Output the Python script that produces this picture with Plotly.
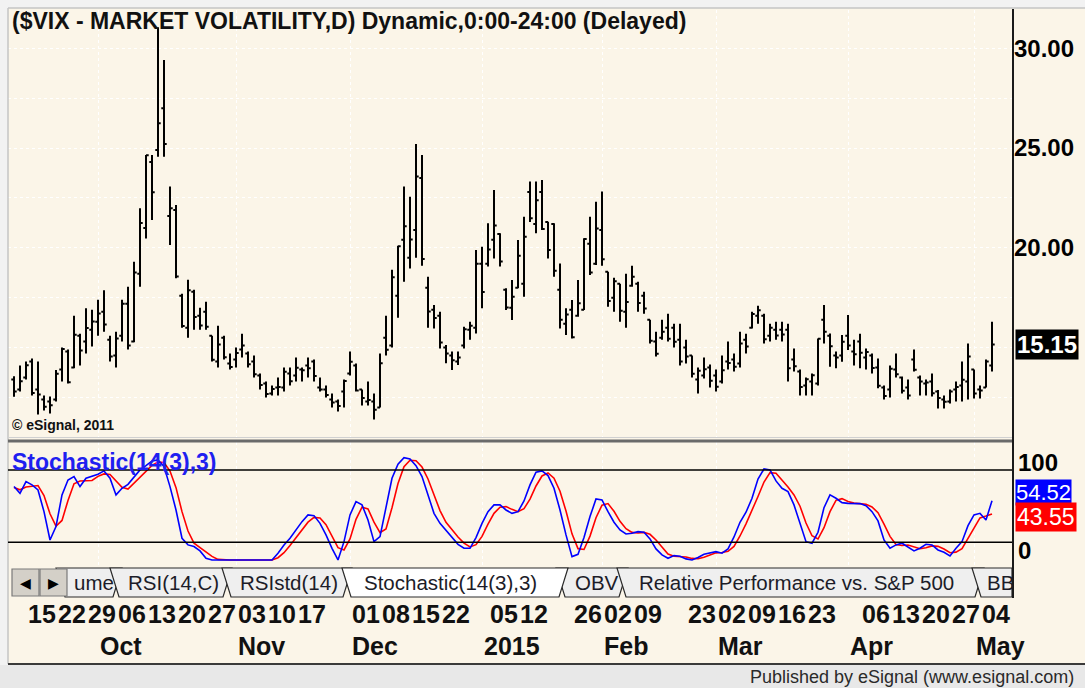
import pandas as pd
import plotly.graph_objects as go

W, H = 1085, 688
FONT = "Liberation Sans, Arial, sans-serif"
CREAM = "#fbf5e8"

# ---------------- data ----------------
start_date, end_date = "2014-09-11", "2015-05-06"
market_holidays = ["2014-11-27", "2014-12-25", "2015-01-01", "2015-01-19", "2015-02-16", "2015-04-03"]
dates = [d for d in pd.bdate_range(start_date, end_date) if d.strftime("%Y-%m-%d") not in market_holidays]

opens = [13.40, 12.90, 13.50, 14.30, 12.90, 12.40, 12.30, 12.40, 13.90, 14.80,
         14.00, 15.60, 15.30, 15.90, 16.30, 16.80, 15.40, 14.60, 15.60, 17.20,
         15.30, 18.70, 21.00, 24.30, 24.90, 27.00, 21.60, 21.90, 17.60, 16.00,
         17.80, 16.60, 16.80, 15.60, 14.30, 15.50, 14.20, 14.40, 14.90, 14.70,
         14.30, 13.60, 13.20, 12.70, 13.00, 13.00, 13.70, 13.60, 13.90, 14.10,
         14.30, 13.00, 12.90, 12.40, 12.30, 12.80, 13.70, 14.10, 12.90, 12.30,
         12.30, 12.00, 15.50, 15.10, 17.60, 20.40, 19.50, 20.90, 23.50, 18.00,
         16.90, 16.60, 15.00, 14.60, 14.30, 15.10, 15.90, 16.00, 19.20, 19.20,
         20.40, 20.70, 17.90, 17.00, 18.00, 18.20, 22.80, 21.20, 22.80, 21.30,
         21.20, 17.90, 16.20, 16.90, 16.60, 16.90, 20.20, 19.20, 20.90, 18.80,
         17.50, 18.20, 16.80, 18.10, 18.20, 17.60, 16.40, 15.30, 15.50, 16.00,
         16.00, 15.40, 15.00, 14.60, 13.40, 13.60, 14.00, 13.60, 13.30, 14.30,
         14.40, 14.20, 15.40, 16.00, 16.60, 16.60, 15.60, 15.90, 15.90, 15.90,
         14.40, 13.80, 13.10, 13.30, 13.20, 16.40, 15.60, 14.60, 14.60, 15.60,
         14.80, 15.30, 14.50, 14.60, 14.00, 13.00, 12.90, 13.90, 13.50, 13.00,
         14.40, 13.50, 13.20, 13.30, 12.80, 12.40, 12.30, 12.90, 13.10, 13.30,
         13.90, 12.90, 13.00, 14.10]
highs = [13.57, 14.10, 14.30, 14.46, 14.30, 12.60, 12.55, 13.88, 15.00, 14.90,
         16.60, 15.70, 16.97, 16.90, 17.40, 17.88, 15.60, 15.80, 17.40, 18.05,
         19.30, 21.98, 24.65, 24.65, 31.06, 29.42, 23.07, 22.15, 17.70, 18.40,
         17.90, 17.00, 17.30, 15.60, 16.10, 15.60, 14.70, 15.00, 15.70, 14.80,
         14.60, 13.70, 13.30, 13.10, 13.50, 14.00, 14.00, 14.50, 14.00, 14.50,
         14.40, 13.50, 13.10, 12.70, 12.40, 13.40, 14.80, 14.20, 12.90, 13.30,
         12.70, 14.70, 16.60, 18.90, 20.10, 23.07, 22.56, 25.20, 24.65, 18.55,
         17.13, 16.80, 15.13, 14.80, 14.80, 16.05, 16.30, 19.89, 20.06, 21.23,
         22.90, 20.73, 17.97, 18.39, 20.39, 21.56, 23.32, 23.32, 23.40, 21.31,
         21.23, 19.22, 16.97, 17.39, 18.39, 20.48, 21.56, 22.31, 22.82, 18.80,
         18.50, 18.20, 18.70, 19.10, 18.30, 17.80, 16.40, 15.80, 16.40, 16.70,
         16.20, 16.20, 15.40, 14.60, 14.00, 14.50, 14.15, 13.90, 14.60, 15.30,
         14.70, 15.80, 15.70, 16.80, 17.10, 16.70, 16.20, 16.30, 16.30, 16.20,
         14.96, 13.90, 13.50, 13.70, 15.46, 17.13, 15.71, 14.80, 15.63, 16.63,
         15.40, 15.70, 14.96, 14.70, 14.46, 13.10, 14.10, 14.70, 13.55, 13.40,
         14.90, 13.60, 13.40, 13.70, 12.87, 12.60, 12.90, 13.30, 14.30, 15.20,
         13.90, 13.10, 14.40, 16.30]
lows = [12.54, 12.80, 13.40, 12.60, 11.65, 11.85, 11.70, 12.30, 13.30, 13.20,
        13.96, 14.10, 14.71, 15.05, 15.60, 15.80, 14.30, 14.00, 15.30, 14.90,
        15.27, 18.05, 20.47, 21.40, 24.57, 24.57, 20.14, 18.47, 16.00, 15.50,
        15.90, 15.90, 15.90, 14.30, 14.00, 14.40, 13.90, 14.00, 14.50, 14.00,
        13.50, 12.90, 12.50, 12.60, 12.60, 12.80, 13.10, 13.30, 13.30, 13.50,
        13.30, 12.80, 12.50, 12.00, 11.80, 12.00, 13.60, 12.80, 12.10, 12.10,
        11.40, 12.00, 14.60, 15.00, 16.50, 18.30, 18.97, 19.50, 19.10, 16.00,
        15.96, 14.96, 14.21, 13.88, 14.13, 14.96, 15.40, 15.71, 16.97, 19.06,
        19.47, 19.06, 16.88, 16.38, 17.97, 17.55, 21.30, 20.73, 20.90, 19.47,
        18.55, 15.96, 15.63, 15.46, 16.55, 16.88, 18.64, 19.14, 19.10, 17.05,
        16.80, 16.30, 16.00, 18.05, 16.80, 16.70, 15.20, 14.55, 15.40, 15.30,
        15.00, 14.10, 14.20, 13.50, 12.70, 13.45, 13.00, 12.80, 13.20, 13.90,
        13.80, 14.00, 14.70, 15.96, 16.20, 15.20, 15.30, 15.40, 15.30, 13.30,
        13.80, 12.60, 12.60, 12.60, 13.10, 15.20, 14.04, 13.96, 14.29, 14.88,
        14.10, 13.96, 13.90, 13.70, 12.96, 12.40, 12.50, 13.50, 12.70, 12.40,
        13.80, 12.60, 12.60, 12.55, 11.95, 11.95, 12.20, 12.30, 12.30, 12.40,
        12.45, 12.45, 13.00, 13.80]
closes = [12.80, 13.31, 14.12, 12.73, 12.65, 12.03, 12.11, 13.69, 14.93, 13.27,
          15.64, 14.85, 15.98, 16.31, 16.71, 16.16, 14.55, 15.46, 17.20, 15.11,
          18.76, 21.24, 24.64, 22.79, 26.25, 25.20, 21.99, 18.57, 16.08, 17.87,
          16.53, 16.11, 16.04, 14.39, 15.15, 14.52, 14.03, 14.73, 15.10, 14.17,
          13.67, 13.12, 12.67, 12.92, 13.02, 13.79, 13.31, 13.99, 13.86, 13.96,
          13.58, 12.90, 12.62, 12.25, 12.07, 13.33, 14.29, 12.85, 12.47, 12.38,
          11.89, 14.21, 14.89, 18.53, 20.08, 21.08, 20.42, 23.57, 19.44, 16.81,
          16.49, 15.25, 14.70, 14.37, 14.50, 15.92, 16.10, 19.20, 17.79, 19.92,
          21.12, 19.31, 17.01, 17.55, 19.60, 20.56, 21.48, 22.39, 20.95, 19.89,
          18.85, 16.40, 16.66, 15.52, 17.22, 20.44, 18.76, 20.97, 19.43, 17.33,
          18.33, 16.85, 17.29, 18.55, 17.23, 16.96, 15.34, 14.69, 15.80, 15.45,
          15.29, 14.30, 14.56, 13.69, 13.84, 13.91, 13.34, 13.04, 13.86, 14.23,
          14.04, 15.20, 15.06, 16.69, 16.87, 15.42, 16.00, 15.61, 15.66, 13.97,
          14.07, 13.02, 13.41, 13.62, 15.44, 15.80, 15.07, 14.51, 15.29, 15.11,
          14.67, 14.74, 14.78, 13.98, 13.09, 12.58, 13.94, 13.67, 12.84, 12.60,
          13.89, 13.30, 13.25, 12.71, 12.48, 12.29, 12.80, 13.03, 13.39, 14.55,
          12.70, 12.85, 14.31, 15.15]
stoch_k = [66.2, 60.6, 70.3, 67.6, 63.4, 45.4, 21.9, 33.0, 59.3, 71.7,
           74.5, 66.2, 73.1, 74.5, 76.4, 79.2, 73.1, 59.3, 64.8, 68.1,
           74.5, 80.0, 83.6, 87.5, 88.3, 82.8, 66.2, 46.8, 23.3, 17.8,
           16.4, 12.8, 6.7, 5.3, 5.3, 5.3, 5.3, 5.3, 5.3, 5.9,
           5.3, 5.3, 5.3, 5.3, 10.9, 17.8, 23.3, 30.2, 37.1, 42.7,
           42.1, 35.7, 26.1, 15.0, 5.3, 20.5, 42.7, 53.7, 51.0, 38.5,
           20.5, 24.7, 48.2, 73.1, 84.7, 90.2, 89.1, 83.6, 74.5, 59.3,
           44.0, 35.7, 30.2, 24.7, 18.3, 15.0, 15.0, 23.9, 35.7, 45.4,
           51.0, 51.0, 46.8, 44.0, 45.4, 54.3, 67.6, 78.1, 79.2, 75.3,
           64.8, 46.8, 26.1, 8.1, 10.0, 23.9, 41.3, 55.9, 55.1, 45.4,
           36.6, 30.2, 26.9, 27.5, 28.8, 28.3, 22.8, 14.5, 9.5, 6.7,
           8.9, 8.4, 6.2, 5.3, 7.3, 10.0, 11.4, 12.2, 10.9, 14.5,
           24.4, 36.6, 44.9, 56.5, 72.5, 80.8, 80.0, 70.9, 64.8, 62.0,
           51.0, 36.6, 20.5, 19.2, 28.3, 48.7, 59.3, 56.5, 52.9, 52.3,
           52.3, 52.1, 50.4, 45.4, 37.7, 21.9, 15.0, 17.8, 19.2, 16.1,
           12.8, 15.0, 18.3, 17.8, 13.6, 11.7, 8.6, 15.0, 20.5, 33.8,
           42.7, 44.0, 38.5, 54.52]
stoch_d = [65.5, 63.5, 65.8, 66.2, 67.1, 58.8, 43.6, 33.4, 38.1, 54.7,
           68.5, 70.8, 71.3, 71.3, 74.7, 76.7, 76.2, 70.5, 65.7, 64.1,
           69.1, 74.2, 79.4, 83.7, 86.5, 86.2, 79.1, 65.3, 45.4, 29.3,
           19.2, 15.7, 12.0, 8.3, 5.8, 5.3, 5.3, 5.3, 5.3, 5.5,
           5.5, 5.5, 5.3, 5.3, 7.2, 11.3, 17.3, 23.8, 30.2, 36.7,
           40.6, 40.2, 34.6, 25.6, 15.5, 13.6, 22.8, 39.0, 49.1, 47.7,
           36.7, 27.9, 31.1, 48.7, 68.7, 82.7, 88.0, 87.6, 82.4, 72.5,
           59.3, 46.3, 36.6, 30.2, 24.4, 19.3, 16.1, 18.0, 24.9, 35.0,
           44.0, 49.1, 49.6, 47.3, 45.4, 47.9, 55.8, 66.7, 75.0, 77.5,
           73.1, 62.3, 45.9, 27.0, 14.7, 14.0, 25.1, 40.4, 50.8, 52.1,
           45.7, 37.4, 31.2, 28.2, 27.7, 28.2, 26.6, 21.9, 15.6, 10.2,
           8.4, 8.0, 7.8, 6.6, 6.3, 7.5, 9.6, 11.2, 11.5, 12.5,
           16.6, 25.2, 35.3, 46.0, 58.0, 70.0, 77.8, 77.2, 71.9, 65.9,
           59.3, 49.9, 36.0, 25.4, 22.7, 32.1, 45.4, 54.8, 56.2, 53.9,
           52.5, 52.2, 51.6, 49.3, 44.5, 35.0, 24.9, 18.2, 17.3, 17.7,
           16.0, 14.6, 15.4, 17.0, 16.6, 14.4, 11.3, 11.8, 14.7, 23.1,
           32.3, 40.2, 41.7, 43.55]
stoch_levels = [20, 80]
price_ticks = [20, 25, 30]
week_label_dates = ["2014-09-15", "2014-09-22", "2014-09-29", "2014-10-06", "2014-10-13",
                    "2014-10-20", "2014-10-27", "2014-11-03", "2014-11-10", "2014-11-17",
                    "2014-12-01", "2014-12-08", "2014-12-15", "2014-12-22", "2015-01-05",
                    "2015-01-12", "2015-01-26", "2015-02-02", "2015-02-09", "2015-02-23",
                    "2015-03-02", "2015-03-09", "2015-03-16", "2015-03-23", "2015-04-06",
                    "2015-04-13", "2015-04-20", "2015-04-27", "2015-05-04"]
month_label_dates = ["2014-10-01", "2014-11-03", "2014-12-01", "2015-01-02",
                     "2015-02-02", "2015-03-02", "2015-04-01", "2015-05-01"]
month_labels = ["Oct", "Nov", "Dec", "2015", "Feb", "Mar", "Apr", "May"]
tab_labels = ["ume", "RSI(14,C)", "RSIstd(14)", "Stochastic(14(3),3)", "OBV",
              "Relative Performance vs. S&P 500", "BB"]
active_tab = "Stochastic(14(3),3)"

title_text = "($VIX - MARKET VOLATILITY,D) Dynamic,0:00-24:00 (Delayed)"

# ---------------- helpers ----------------
def X(p):
    return p / W


def Y(p):
    return 1 - p / H


idx = {d.strftime("%Y-%m-%d"): i for i, d in enumerate(dates)}
xs = list(range(len(dates)))
month_idx = [idx[d] for d in month_label_dates]

fig = go.Figure()
fig.add_trace(go.Ohlc(
    x=xs, open=opens, high=highs, low=lows, close=closes,
    increasing=dict(line=dict(color="#000000", width=2)),
    decreasing=dict(line=dict(color="#000000", width=2)),
    tickwidth=0.45, xaxis="x", yaxis="y", hoverinfo="skip"))
fig.add_trace(go.Scatter(x=xs, y=stoch_d, mode="lines", line=dict(color="#ff0000", width=1.6),
                         xaxis="x2", yaxis="y2", hoverinfo="skip"))
fig.add_trace(go.Scatter(x=xs, y=stoch_k, mode="lines", line=dict(color="#0000ff", width=1.6),
                         xaxis="x2", yaxis="y2", hoverinfo="skip"))

xdom = [X(8), X(1013)]
xrange_ = [-1, 166.5]
grid = dict(showgrid=True, gridcolor="#ffffff", griddash="dot", gridwidth=1)

fig.update_layout(
    width=W, height=H, margin=dict(l=0, r=0, t=0, b=0),
    paper_bgcolor=CREAM, plot_bgcolor=CREAM, showlegend=False,
    font=dict(family=FONT, color="#000000"),
    xaxis=dict(domain=xdom, range=xrange_, anchor="y", showticklabels=False, ticks="",
               tickmode="array", tickvals=month_idx, zeroline=False, showline=False,
               rangeslider=dict(visible=False), fixedrange=True, **grid),
    yaxis=dict(domain=[Y(437), Y(10)], range=[10.52, 31.92], anchor="x", side="right",
               tickmode="array", tickvals=price_ticks, ticktext=[f"{v:.2f}" for v in price_ticks],
               tickfont=dict(family=FONT, size=24, color="#000000", weight="bold"),
               ticks="", zeroline=False, showline=False, fixedrange=True,
               minor=dict(dtick=2.5, tick0=0, showgrid=True, gridcolor="#ffffff", griddash="dot"),
               **grid),
    xaxis2=dict(domain=xdom, range=xrange_, anchor="y2", matches="x", showticklabels=False,
                ticks="", tickmode="array", tickvals=month_idx, zeroline=False, showline=False,
                fixedrange=True, **grid),
    yaxis2=dict(domain=[Y(566), Y(442)], range=[0.3, 103.2], anchor="x2", side="right",
                showticklabels=False, ticks="", showgrid=False, zeroline=False, fixedrange=True),
)

shapes = []
ann = []

# frame pieces
shapes.append(dict(type="rect", xref="paper", yref="paper", x0=0, x1=1, y0=Y(8), y1=1,
                   fillcolor="#f2f2f2", line_width=0))
shapes.append(dict(type="rect", xref="paper", yref="paper", x0=0, x1=X(8), y0=0, y1=1,
                   fillcolor="#f2f2f2", line_width=0))
shapes.append(dict(type="line", xref="paper", yref="paper", x0=X(8), x1=1, y0=Y(8), y1=Y(8),
                   line=dict(color="#c4c4c4", width=1.5)))
shapes.append(dict(type="line", xref="paper", yref="paper", x0=X(8), x1=X(8), y0=Y(664), y1=Y(8),
                   line=dict(color="#c4c4c4", width=1.5)))
# panel separator
shapes.append(dict(type="line", xref="paper", yref="paper", x0=X(8), x1=X(1013), y0=Y(437.5), y1=Y(437.5),
                   line=dict(color="#d0d0d0", width=1)))
shapes.append(dict(type="line", xref="paper", yref="paper", x0=X(8), x1=X(1013), y0=Y(441), y1=Y(441),
                   line=dict(color="#6a6a6a", width=3)))
# stochastic reference levels
for lv in stoch_levels:
    shapes.append(dict(type="line", xref="x2 domain", yref="y2", x0=0, x1=1, y0=lv, y1=lv,
                       line=dict(color="#000000", width=1.5)))

# tabs
tab_geom = {"ume": (56, 122, 72), "RSI(14,C)": (110, 232, 126), "RSIstd(14)": (222, 352, 238),
            "Stochastic(14(3),3)": (342, 568, 362), "OBV": (556, 628, 573),
            "Relative Performance vs. S&P 500": (617, 984, 637), "BB": (972, 1030, 985)}
top, bot, s = 568, 597, 9


def tab_path(x0, x1):
    xr_top = min(x1, 1012)
    xr_bot = min(x1 - s, 1012)
    return (f"M {X(x0)},{Y(top)} L {X(x0 + s)},{Y(bot)} L {X(xr_bot)},{Y(bot)} "
            f"L {X(xr_top)},{Y(top)} Z")


order = [t for t in tab_labels if t != active_tab] + [active_tab]
for t in order:
    x0, x1, tx = tab_geom[t]
    fill = "#ffffff" if t == active_tab else "#efefef"
    shapes.append(dict(type="path", xref="paper", yref="paper", path=tab_path(x0, x1),
                       fillcolor=fill, line=dict(color="#2a2a2a", width=1.2)))
    ann.append(dict(text=t, xref="paper", yref="paper", x=X(tx), y=Y(582), xanchor="left",
                    yanchor="middle", showarrow=False,
                    font=dict(family=FONT, size=20.5, color="#1c1c28")))

# scroll buttons
for bx0, bx1, sym in [(12, 39, "\u25C0"), (40, 67, "\u25B6")]:
    shapes.append(dict(type="rect", xref="paper", yref="paper", x0=X(bx0), x1=X(bx1), y0=Y(596), y1=Y(569),
                       fillcolor="#d4d0c8", line=dict(color="#7a7a7a", width=1.2)))
    ann.append(dict(text=sym, xref="paper", yref="paper", x=X((bx0 + bx1) / 2), y=Y(582.5),
                    xanchor="center", yanchor="middle", showarrow=False,
                    font=dict(family="DejaVu Sans", size=14, color="#000000")))

# right axis line
shapes.append(dict(type="line", xref="paper", yref="paper", x0=X(1013), x1=X(1013), y0=Y(598), y1=Y(9),
                   line=dict(color="#1a1a1a", width=2)))
# bottom strip
shapes.append(dict(type="rect", xref="paper", yref="paper", x0=0, x1=1, y0=0, y1=Y(665),
                   fillcolor="#e8e8e8", line_width=0))
shapes.append(dict(type="line", xref="paper", yref="paper", x0=X(8), x1=1, y0=Y(664), y1=Y(664),
                   line=dict(color="#3a3a3a", width=2)))

# texts
ann.append(dict(text=title_text, xref="paper", yref="paper", x=X(10), y=Y(21), xanchor="left",
                yanchor="middle", showarrow=False,
                font=dict(family=FONT, size=23, color="#111111", weight="bold")))
ann.append(dict(text="\u00a9 eSignal, 2011", xref="paper", yref="paper", x=X(10), y=Y(425),
                xanchor="left", yanchor="middle", showarrow=False,
                font=dict(family=FONT, size=14, color="#111111", weight="bold")))
ann.append(dict(text="Stochastic(14(3),3)", xref="paper", yref="paper", x=X(10), y=Y(462),
                xanchor="left", yanchor="middle", showarrow=False,
                font=dict(family=FONT, size=23, color="#1f1ff0", weight="bold")))
ann.append(dict(text=f"{closes[-1]:.2f}", xref="paper", yref="y", x=X(1015), y=closes[-1],
                xanchor="left", yanchor="middle", showarrow=False, bgcolor="#000000", borderpad=1,
                font=dict(family=FONT, size=24, color="#ffffff", weight="bold")))
ann.append(dict(text="100", xref="paper", yref="paper", x=X(1016), y=Y(462), xanchor="left",
                yanchor="middle", showarrow=False,
                font=dict(family=FONT, size=24, color="#000000", weight="bold")))
ann.append(dict(text="0", xref="paper", yref="paper", x=X(1016), y=Y(550), xanchor="left",
                yanchor="middle", showarrow=False,
                font=dict(family=FONT, size=24, color="#000000", weight="bold")))
ann.append(dict(text=f"{stoch_k[-1]:.2f}", xref="paper", yref="y2", x=X(1015), y=stoch_k[-1], yshift=8,
                xanchor="left", yanchor="middle", showarrow=False, bgcolor="#0000ff", borderpad=0,
                font=dict(family=FONT, size=22, color="#ffffff")))
ann.append(dict(text=f"{stoch_d[-1]:.2f}", xref="paper", yref="y2", x=X(1015), y=stoch_d[-1], yshift=-3,
                xanchor="left", yanchor="middle", showarrow=False, bgcolor="#ff0000", borderpad=1,
                font=dict(family=FONT, size=23, color="#ffffff")))

for d in week_label_dates:
    ann.append(dict(text=pd.Timestamp(d).strftime("%d"), xref="x", yref="paper", x=idx[d], y=Y(614),
                    xanchor="left", yanchor="middle", showarrow=False,
                    font=dict(family=FONT, size=25, color="#111111", weight="bold")))
for d, lab in zip(month_label_dates, month_labels):
    ann.append(dict(text=lab, xref="x", yref="paper", x=idx[d], y=Y(646),
                    xanchor="left", yanchor="middle", showarrow=False,
                    font=dict(family=FONT, size=25, color="#111111", weight="bold")))

ann.append(dict(text="Published by eSignal (www.esignal.com)", xref="paper", yref="paper",
                x=X(1076), y=Y(677), xanchor="right", yanchor="middle", showarrow=False,
                font=dict(family=FONT, size=18, color="#2a2a2a")))

fig.update_layout(shapes=shapes, annotations=ann)
fig.write_html("out.html", config={"displayModeBar": False, "staticPlot": True})

# remove the default page margin so the figure sits at the window's top-left corner
with open("out.html", "r", encoding="utf-8") as fh:
    html = fh.read()
html = html.replace("<head>", "<head><style>html,body{margin:0;padding:0;overflow:hidden;}</style>", 1)
with open("out.html", "w", encoding="utf-8") as fh:
    fh.write(html)
